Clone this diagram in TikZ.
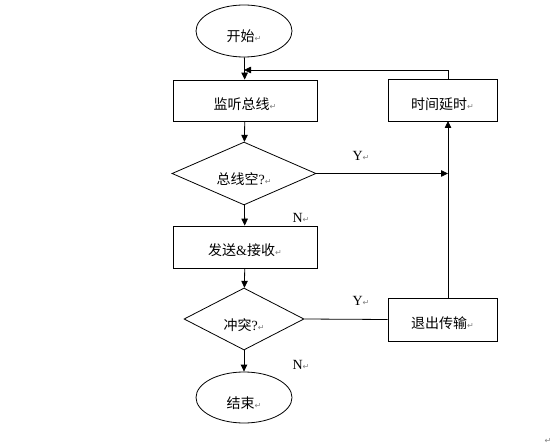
\documentclass[tikz,border=0pt]{standalone}
\usepackage{fontspec}
\setmainfont{Liberation Serif}
\newfontfamily\cjk{Noto Sans CJK SC}
\newfontfamily\symfont{DejaVu Sans}
\usetikzlibrary{shapes.geometric,arrows.meta}
\newcommand{\retmark}{{\symfont\fontsize{8bp}{8bp}\selectfont\color{gray}↵}}
\newcommand{\lowtext}[2]{\raisebox{-#1}[8bp][0bp]{#2}}
\begin{document}
\begin{tikzpicture}
      [x=1bp,y=-1bp,line width=0.8bp,
      font=\fontsize{14bp}{16bp}\selectfont,
      every node/.style={inner sep=0pt},
      terminal/.style={draw,ellipse,minimum width=96bp,minimum height=52bp},
      process/.style={draw,rectangle,minimum width=144bp,minimum height=41bp},
      sideproc/.style={draw,rectangle,minimum width=109bp,minimum height=42bp},
      decision/.style={draw,diamond,minimum width=144bp,minimum height=61bp},
      arr/.style={-{Triangle[length=7bp,width=6.5bp]}}]
      \useasboundingbox (0,0) rectangle (554,447);
      \node[terminal] (start) at (244,31) {\lowtext{7bp}{{\cjk 开始}\retmark}};
      \node[process] (listen) at (245,100.5) {\lowtext{5bp}{{\cjk 监听总线}\retmark}};
      \node[sideproc] (delay) at (442.5,100.5) {\lowtext{5bp}{{\cjk 时间延时}\retmark}};
      \node[decision] (idle) at (244,173.5) {\lowtext{7bp}{{\cjk 总线空}?\retmark}};
      \node[process,minimum height=42bp] (send) at (245,247) {\lowtext{4.5bp}{{\cjk 发送}\&{\cjk 接收}\retmark}};
      \node[decision,minimum width=120bp,minimum height=62bp] (collide) at (244,319) {\lowtext{7bp}{{\cjk 冲突}?\retmark}};
      \node[sideproc,minimum height=43bp] (quit) at (442.5,319.5) {\lowtext{4.5bp}{{\cjk 退出传输}\retmark}};
      \node[terminal,minimum height=51bp] (end) at (244,397.5) {\lowtext{7bp}{{\cjk 结束}\retmark}};
      \coordinate (join) at (244,70);
      \coordinate (rail) at (448,173.5);
      \coordinate (railtop) at (448,121);
      \coordinate (railbot) at (448,298);
      \draw[arr] (start) -- (listen);
      \draw[arr] (delay.north -| railtop) |- (join);
      \draw[arr] (listen) -- (idle);
      \draw[arr] (idle.east) -- (rail);
      \draw[arr] (railbot) -- (railtop);
      \draw[arr] (idle) -- (send);
      \draw[arr] (send) -- (collide);
      \draw (collide.east) -- (quit.west);
      \draw[arr] (collide) -- (end);
      \node (y1) at (361,156) {Y\retmark};
      \node (n1) at (301,218) {N\retmark};
      \node (y2) at (361,301) {Y\retmark};
      \node (n2) at (301,365) {N\retmark};
      \node (tail) at (548,441) {\retmark};
    \end{tikzpicture}
\end{document}
